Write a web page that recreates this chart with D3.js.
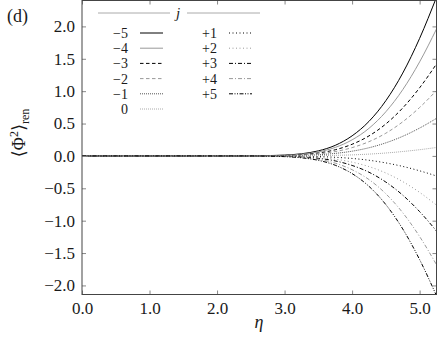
<!DOCTYPE html>
<head>
<meta charset="utf-8">
<title>Phi2 ren</title>
<script src="https://cdn.jsdelivr.net/npm/d3@7"></script>
<style>
  body { margin: 0; background: #fff; }
  svg text { font-family: "Liberation Serif", "DejaVu Serif", serif !important; fill: #1a1a1a; }
  .frame { fill: none; stroke: #444; stroke-width: 1; }
</style>
</head>
<body>
<div id="chart"></div>
<script>
// eta grid shared by all curves
var eta = [0, 1.0, 2.0, 2.5, 2.75, 3.0, 3.25, 3.5, 3.75, 4.0, 4.25, 4.5, 4.75, 5.0, 5.25];

// <Phi^2>_ren for each j
var jm5 = [0, 0, 0, 0, 0.005, 0.013, 0.033, 0.078, 0.163, 0.31, 0.533, 0.853, 1.279, 1.815, 2.45];
var jm4 = [0, 0, 0, 0, 0.004, 0.010, 0.026, 0.062, 0.131, 0.248, 0.426, 0.682, 1.023, 1.452, 1.96];
var jm3 = [0, 0, 0, 0, 0.003, 0.007, 0.019, 0.045, 0.095, 0.180, 0.309, 0.494, 0.741, 1.052, 1.42];
var jm2 = [0, 0, 0, 0, 0.002, 0.005, 0.014, 0.032, 0.067, 0.128, 0.220, 0.351, 0.527, 0.748, 1.01];
var jm1 = [0, 0, 0, 0, 0.001, 0.003, 0.008, 0.018, 0.039, 0.073, 0.126, 0.202, 0.303, 0.430, 0.58];
var j0  = [0, 0, 0, 0, 0, 0.001, 0.002, 0.004, 0.009, 0.016, 0.028, 0.045, 0.068, 0.096, 0.13];
var jp1 = [0, 0, 0, 0, -0.001, -0.002, -0.004, -0.010, -0.021, -0.039, -0.067, -0.108, -0.162, -0.230, -0.31];
var jp2 = [0, 0, 0, 0, -0.001, -0.004, -0.010, -0.024, -0.051, -0.096, -0.165, -0.264, -0.397, -0.563, -0.76];
var jp3 = [0, 0, 0, 0, -0.002, -0.006, -0.016, -0.037, -0.077, -0.147, -0.252, -0.404, -0.606, -0.860, -1.16];
var jp4 = [0, 0, 0, 0, -0.003, -0.009, -0.023, -0.053, -0.112, -0.213, -0.365, -0.585, -0.877, -1.245, -1.68];
var jp5 = [0, 0, 0, 0, -0.004, -0.011, -0.029, -0.068, -0.144, -0.273, -0.470, -0.752, -1.128, -1.601, -2.16];

var labels = ["\u22125", "\u22124", "\u22123", "\u22122", "\u22121", "0", "+1", "+2", "+3", "+4", "+5"];
var values = [jm5, jm4, jm3, jm2, jm1, j0, jp1, jp2, jp3, jp4, jp5];
var colors = ["#000", "#999", "#000", "#999", "#555", "#aaa", "#000", "#999", "#000", "#999", "#000"];
var dashes = [null, null, "3.5,2.5", "3.5,2.5", "1,1", "1,1", "1,2.5", "1,2.5", "4,2,1,2", "4,2,1,2", "4,1.5,1,1.5,1,1.5"];

var xTicks = [0, 1, 2, 3, 4, 5];
var yTicks = [-2, -1.5, -1, -0.5, 0, 0.5, 1, 1.5, 2];

var width = 437, height = 343;
var pLeft = 82, pRight = 436.5, pTop = 0.5, pBottom = 294.5;
var serif = "'Liberation Serif', 'DejaVu Serif', serif";

var svg = d3.select("#chart").append("svg")
  .attr("width", width)
  .attr("height", height)
  .attr("font-family", serif);

var x = d3.scaleLinear().domain([0, 5.25]).range([pLeft, pRight]);
var y = d3.scaleLinear().domain([-2.14, 2.4]).range([pBottom, pTop]);

svg.append("clipPath").attr("id", "clip")
  .append("rect")
  .attr("x", pLeft).attr("y", pTop)
  .attr("width", pRight - pLeft).attr("height", pBottom - pTop);

// curves
var line = d3.line()
  .x(function(d, i) { return x(eta[i]); })
  .y(function(d) { return y(d); })
  .curve(d3.curveMonotoneX);

var curves = svg.append("g").attr("clip-path", "url(#clip)");
values.forEach(function(v, k) {
  curves.append("path")
    .attr("d", line(v))
    .attr("fill", "none")
    .attr("stroke", colors[k])
    .attr("stroke-width", 1)
    .attr("stroke-dasharray", dashes[k]);
});

// axes, ticks pointing inward
var fmt = d3.format(".1f");
function minus(s) { return s.replace("-", "\u2212"); }

svg.append("g")
  .attr("transform", "translate(0," + pBottom + ")")
  .call(d3.axisBottom(x).tickValues(xTicks).tickSize(-4).tickFormat(function(d) { return fmt(d); }))
  .call(function(g) {
    g.attr("font-family", serif);
    g.select(".domain").remove();
    g.selectAll("line").attr("stroke", "#888");
    g.selectAll("text").attr("font-size", 17).attr("y", 7);
  });

svg.append("g")
  .attr("transform", "translate(0," + pTop + ")")
  .call(d3.axisTop(x).tickValues(xTicks).tickSize(-4).tickFormat(""))
  .call(function(g) { g.select(".domain").remove(); g.selectAll("line").attr("stroke", "#888"); });

svg.append("g")
  .attr("transform", "translate(" + pLeft + ",0)")
  .call(d3.axisLeft(y).tickValues(yTicks).tickSize(-4).tickFormat(function(d) { return minus(fmt(d)); }))
  .call(function(g) {
    g.attr("font-family", serif);
    g.select(".domain").remove();
    g.selectAll("line").attr("stroke", "#888");
    g.selectAll("text").attr("font-size", 17).attr("x", -7);
  });

svg.append("g")
  .attr("transform", "translate(" + pRight + ",0)")
  .call(d3.axisRight(y).tickValues(yTicks).tickSize(-4).tickFormat(""))
  .call(function(g) { g.select(".domain").remove(); g.selectAll("line").attr("stroke", "#888"); });

svg.append("rect").attr("class", "frame")
  .attr("x", pLeft).attr("y", pTop)
  .attr("width", pRight - pLeft).attr("height", pBottom - pTop);

svg.selectAll(".tick text").attr("fill", "#1a1a1a");

// labels
svg.append("text")
  .attr("x", 259).attr("y", 328)
  .attr("text-anchor", "middle")
  .attr("font-size", 18)
  .attr("font-style", "italic")
  .text("\u03b7");

var ylab = svg.append("text")
  .attr("transform", "translate(25,133) rotate(-90)")
  .attr("text-anchor", "middle")
  .attr("font-size", 18);
ylab.append("tspan").text("\u27e8\u03a6");
ylab.append("tspan").attr("font-size", 12).attr("dy", -7).text("2");
ylab.append("tspan").attr("dy", 7).text("\u27e9");
ylab.append("tspan").attr("font-size", 12).attr("dy", 4).text("ren");

svg.append("text")
  .attr("x", 7).attr("y", 22)
  .attr("font-size", 18)
  .text("(d)");

// legend
var leg = svg.append("g");
leg.append("line").attr("x1", 98).attr("x2", 170).attr("y1", 13).attr("y2", 13)
  .attr("stroke", "#aaa");
leg.append("line").attr("x1", 187).attr("x2", 260).attr("y1", 13).attr("y2", 13)
  .attr("stroke", "#aaa");
leg.append("text").attr("x", 178).attr("y", 18)
  .attr("text-anchor", "middle").attr("font-size", 15).attr("font-style", "italic")
  .text("j");

labels.forEach(function(lab, k) {
  var col = k < 6 ? 0 : 1;
  var row = k < 6 ? k : k - 6;
  var ly = 33 + row * 15.2;
  var lx = col === 0 ? 128 : 217;
  leg.append("text")
    .attr("x", lx).attr("y", ly + 5)
    .attr("text-anchor", "end")
    .attr("font-size", 14)
    .text(lab);
  leg.append("line")
    .attr("x1", lx + 12).attr("x2", lx + 35)
    .attr("y1", ly).attr("y2", ly)
    .attr("stroke", colors[k])
    .attr("stroke-width", 1)
    .attr("stroke-dasharray", dashes[k]);
});
</script>
</body>
